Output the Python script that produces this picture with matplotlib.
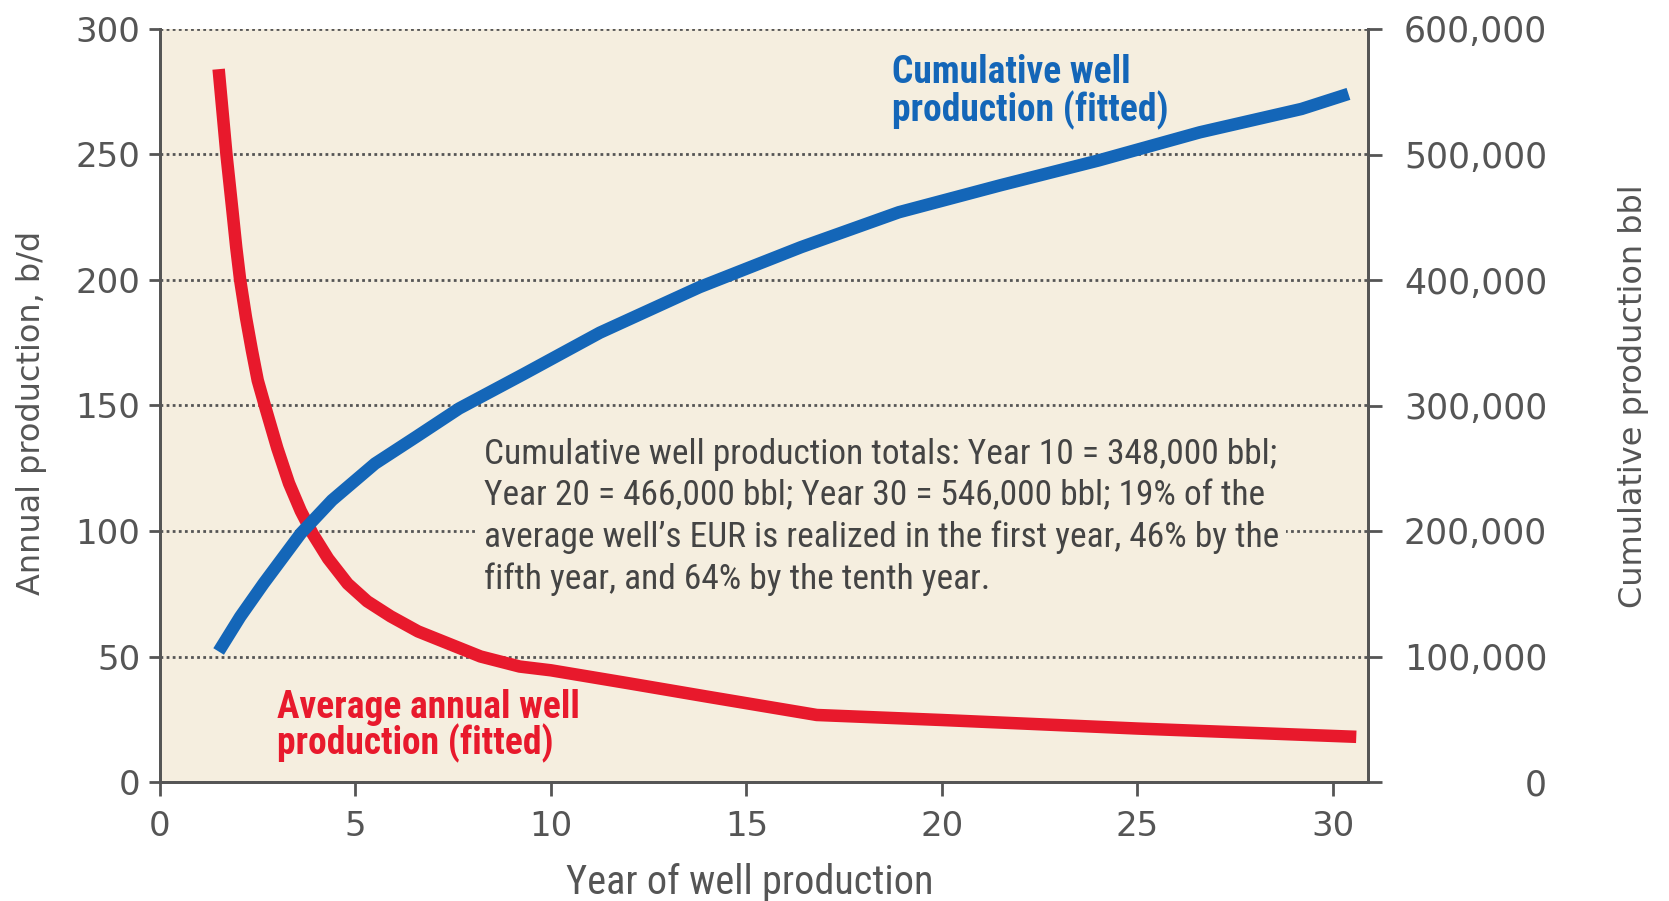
import numpy as np
import matplotlib.pyplot as plt
from matplotlib import font_manager

# average annual well production, b/d (left axis)
annual_years = [1.5, 1.7, 1.85, 1.95, 2.05, 2.2, 2.35, 2.5, 2.7, 3.0, 3.3, 3.6, 3.9, 4.3, 4.8,
                5.3, 5.9, 6.6, 7.4, 8.2, 9.2, 10, 12, 14, 16.8, 20, 25, 30.6]
annual_bd = [284, 250, 228, 213, 200, 185, 172, 160, 149, 133, 119, 108, 99, 89, 79,
             72, 66, 60, 55, 50, 46, 44.5, 39.3, 34.0, 26.7, 24.7, 21.3, 18]

# cumulative well production, bbl (right axis)
cum_years = [1.5, 2.05, 2.65, 3.6, 4.4, 5.5, 6.55, 7.65, 9.3, 11.25, 13.8, 16.4, 18.9, 21.5, 24.0, 26.6, 29.2, 30.4]
cum_bbl = [104000, 131600, 158200, 198000, 224500, 253700, 275000, 297600, 325000, 358000,
           394300, 426200, 454000, 475500, 495200, 517700, 536300, 548300]

left_ticks = [0, 50, 100, 150, 200, 250, 300]
right_ticks = [0, 100000, 200000, 300000, 400000, 500000, 600000]
x_ticks = [0, 5, 10, 15, 20, 25, 30]

note_lines = ["Cumulative well production totals: Year 10 = 348,000 bbl;",
              "Year 20 = 466,000 bbl; Year 30 = 546,000 bbl; 19% of the",
              "average well\u2019s EUR is realized in the first year, 46% by the",
              "fifth year, and 64% by the tenth year."]

bg = '#f5eedf'
red = '#e8192c'
blue = '#1466b8'
grey = '#555555'

# look for a narrow face, the original uses a condensed gothic
installed = [f for f in font_manager.fontManager.ttflist]
narrow_name = None
for want in ['Liberation Sans Narrow', 'Roboto Condensed', 'DejaVu Sans Condensed', 'Open Sans Condensed']:
    if any(f.name == want for f in installed):
        narrow_name = want
        break
if narrow_name is None:
    narrow_name = 'Roboto'
    shrink = 0.86
else:
    shrink = 1.0
narrow = [narrow_name, 'DejaVu Sans']

fig = plt.figure(figsize=(16.69, 9.01), dpi=100)
ax = fig.add_axes([160 / 1669, 1 - 782 / 901, 1208 / 1669, 753 / 901])
ax2 = ax.twinx()

ax.set_facecolor(bg)
ax.set_xlim(0, 30.9)
ax.set_ylim(0, 300)
ax2.set_ylim(0, 600000)

ax.set_xticks(x_ticks)
ax.set_yticks(left_ticks)
ax2.set_yticks(right_ticks)
ax2.set_yticklabels([f"{v:,}" for v in right_ticks])

ax.grid(axis='y', linestyle=(0, (1.0, 1.2)), color='#555555', linewidth=2.0)
ax.set_axisbelow(True)

for a in (ax, ax2):
    a.spines['top'].set_visible(False)
    for s in ('left', 'right', 'bottom'):
        a.spines[s].set_color(grey)
        a.spines[s].set_linewidth(2)

ax.tick_params(axis='y', direction='out', length=8, width=2, color=grey, pad=6,
               labelsize=24.5, labelcolor=grey)
ax.tick_params(axis='x', direction='out', length=10, width=2, color=grey, pad=10,
               labelsize=24.5, labelcolor=grey)
ax2.tick_params(axis='y', direction='out', length=10, width=2, color=grey, pad=119,
                labelsize=25, labelcolor=grey)
for lab in ax2.get_yticklabels():
    lab.set_horizontalalignment('right')

ax.plot(annual_years, annual_bd, color=red, linewidth=9, solid_capstyle='butt',
        solid_joinstyle='round', zorder=4)
ax2.plot(cum_years, cum_bbl, color=blue, linewidth=9, solid_capstyle='butt',
         solid_joinstyle='round', zorder=4)

ax.set_ylabel("Annual production, b/d", fontsize=23, color=grey)
ax.yaxis.set_label_coords(-0.106, 0.49)
ax.yaxis.label.set_va('center')
ax2.set_ylabel("Cumulative production bbl", fontsize=23, color=grey, rotation=90)
ax2.yaxis.set_label_coords(1.22, 0.513)
ax2.yaxis.label.set_va('center')
ax.set_xlabel("Year of well production", fontsize=29 * shrink, color=grey, family=narrow)
ax.xaxis.set_label_coords(0.488, -0.134)
ax.xaxis.label.set_va('center')

# series labels
lab_size = 27 * shrink
ax.text(18.72, 282.6, "Cumulative well", color=blue, fontsize=lab_size, fontweight='bold',
        family=narrow, va='center', ha='left', zorder=5)
ax.text(18.72, 267.5, "production (fitted)", color=blue, fontsize=lab_size, fontweight='bold',
        family=narrow, va='center', ha='left', zorder=5)
ax.text(2.99, 29.5, "Average annual well", color=red, fontsize=lab_size, fontweight='bold',
        family=narrow, va='center', ha='left', zorder=5)
ax.text(2.99, 15.5, "production (fitted)", color=red, fontsize=lab_size, fontweight='bold',
        family=narrow, va='center', ha='left', zorder=5)

# note block, one line at a time so each line masks the gridline
note_y = [130.4, 113.9, 97.4, 80.6]
for txt, yy in zip(note_lines, note_y):
    ax.text(8.29, yy, txt, color='#444444', fontsize=25.5 * shrink, family=narrow, va='center',
            ha='left', zorder=3,
            bbox=dict(facecolor=bg, edgecolor='none', pad=5))

fig.savefig('out.png', dpi=100)
